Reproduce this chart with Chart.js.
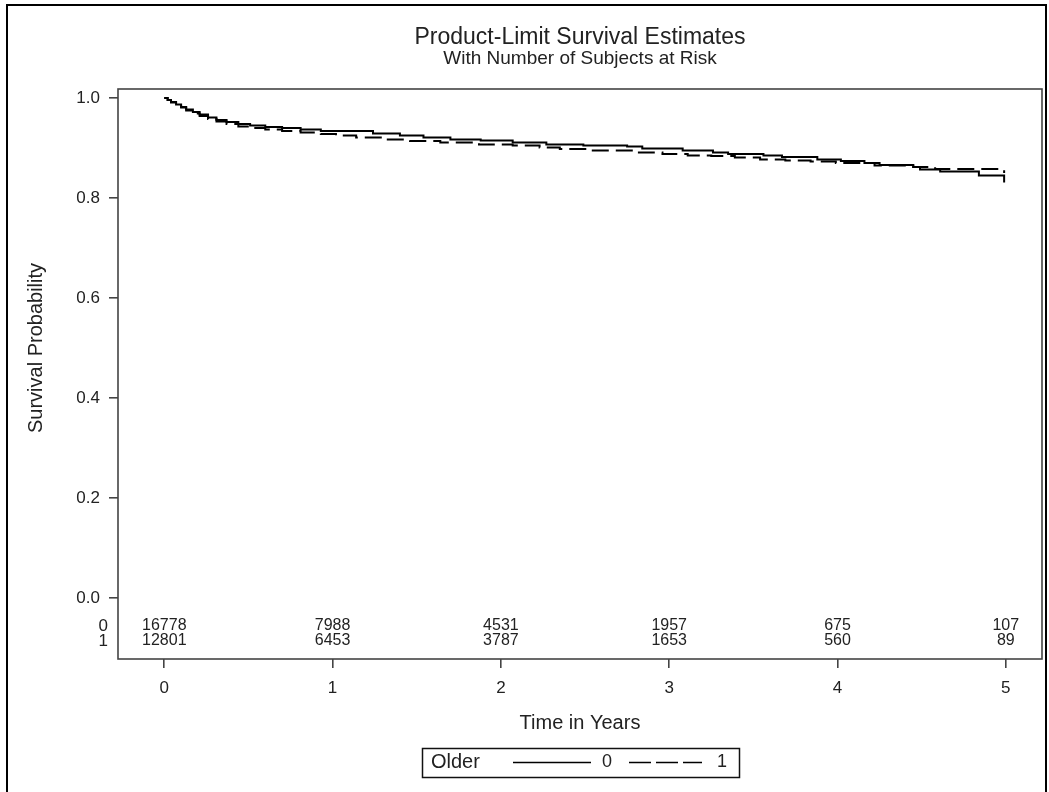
<!DOCTYPE html>
<html>
<head>
<meta charset="utf-8">
<title>Product-Limit Survival Estimates</title>
<script src="https://cdn.jsdelivr.net/npm/chart.js@4"></script>
<style>
  html, body { margin: 0; padding: 0; background: #fff; }
  canvas { display: block; }
</style>
</head>
<body>
<canvas id="kmChart" width="1049" height="792"></canvas>
<script>
// Kaplan-Meier steps: time in years where survival drops, and the value after the drop
const timesGroup0 = [0, 0.02, 0.04, 0.07, 0.10, 0.13, 0.17, 0.21, 0.26, 0.31, 0.37, 0.44, 0.51, 0.60, 0.70, 0.81, 0.93,
    1.24, 1.40, 1.54, 1.70, 1.88, 2.07, 2.27, 2.49, 2.75, 2.84, 3.08, 3.26, 3.35, 3.56, 3.67, 3.88,
    4.02, 4.16, 4.25, 4.45, 4.49, 4.61, 4.84, 4.99];
const survGroup0 = [1.0, 0.996, 0.992, 0.987, 0.982, 0.977, 0.972, 0.967, 0.961, 0.956, 0.952, 0.948, 0.945, 0.942, 0.940, 0.937, 0.934,
    0.929, 0.925, 0.921, 0.917, 0.915, 0.911, 0.907, 0.905, 0.903, 0.899, 0.895, 0.891, 0.888, 0.885, 0.882, 0.877,
    0.874, 0.870, 0.866, 0.862, 0.857, 0.853, 0.845, 0.831];

const timesGroup1 = [0, 0.02, 0.04, 0.07, 0.10, 0.13, 0.17, 0.21, 0.26, 0.31, 0.37, 0.44, 0.51, 0.60, 0.70, 0.81, 0.93,
    1.02, 1.14, 1.30, 1.46, 1.64, 1.87, 2.07, 2.23, 2.35, 2.53, 2.82, 2.96, 3.11, 3.25, 3.39, 3.54, 3.69, 3.84,
    3.99, 4.22, 4.45, 4.58, 4.99];
const survGroup1 = [1.0, 0.996, 0.991, 0.986, 0.981, 0.975, 0.969, 0.964, 0.958, 0.953, 0.948, 0.943, 0.940, 0.937, 0.934, 0.931, 0.928,
    0.925, 0.921, 0.917, 0.914, 0.911, 0.907, 0.905, 0.901, 0.898, 0.895, 0.891, 0.888, 0.885, 0.884, 0.881, 0.877, 0.875, 0.873,
    0.870, 0.865, 0.862, 0.858, 0.850];

// number of subjects at risk
const riskTimes = [0, 1, 2, 3, 4, 5];
const riskGroup0 = [16778, 7988, 4531, 1957, 675, 107];
const riskGroup1 = [12801, 6453, 3787, 1653, 560, 89];
const groupLabels = ['0', '1'];

const yTickValues = [0, 0.2, 0.4, 0.6, 0.8, 1.0];
const yTickLabels = ['0.0', '0.2', '0.4', '0.6', '0.8', '1.0'];

const FONT = '"Liberation Sans", Arial, sans-serif';
const INK = '#222';
const AXIS = '#444';

function toPoints(times, surv) {
    return times.map((t, i) => ({ x: t, y: surv[i] }));
}

const extras = {
    id: 'kmExtras',
    afterDraw(chart) {
        const ctx = chart.ctx;
        const area = chart.chartArea;
        const xs = chart.scales.x;
        const ys = chart.scales.y;
        const midX = (area.left + area.right) / 2;

        ctx.save();

        // outer frame
        ctx.strokeStyle = '#000';
        ctx.lineWidth = 2;
        ctx.beginPath();
        ctx.moveTo(7, 792);
        ctx.lineTo(7, 5);
        ctx.lineTo(1046, 5);
        ctx.lineTo(1046, 792);
        ctx.stroke();

        // plot box
        ctx.strokeStyle = AXIS;
        ctx.lineWidth = 1.6;
        ctx.strokeRect(area.left, area.top, area.right - area.left, area.bottom - area.top);

        ctx.fillStyle = INK;
        ctx.textAlign = 'center';
        ctx.textBaseline = 'middle';

        // titles
        ctx.font = '23px ' + FONT;
        ctx.fillText('Product-Limit Survival Estimates', midX, 38);
        ctx.font = '19px ' + FONT;
        ctx.fillText('With Number of Subjects at Risk', midX, 59);

        // y axis title, centred on the 0..1 range
        ctx.save();
        ctx.translate(36, (ys.getPixelForValue(0) + ys.getPixelForValue(1)) / 2);
        ctx.rotate(-Math.PI / 2);
        ctx.font = '20px ' + FONT;
        ctx.fillText('Survival Probability', 0, 0);
        ctx.restore();

        // at-risk table inside the plot
        const rows = [riskGroup0, riskGroup1];
        const rowY = [626, 641];
        rows.forEach((row, r) => {
            ctx.font = '17px ' + FONT;
            ctx.textAlign = 'right';
            ctx.fillText(groupLabels[r], 108, rowY[r]);
            ctx.font = '16px ' + FONT;
            ctx.textAlign = 'center';
            row.forEach((n, i) => {
                ctx.fillText(String(n), xs.getPixelForValue(riskTimes[i]), rowY[r]);
            });
        });

        // x axis title
        ctx.font = '20px ' + FONT;
        ctx.textAlign = 'center';
        ctx.fillText('Time in Years', midX, 723);

        // legend
        const lx = 422, ly = 748, lw = 317, lh = 29, cy = ly + lh / 2;
        ctx.strokeStyle = '#111';
        ctx.lineWidth = 1.5;
        ctx.strokeRect(lx + 0.5, ly + 0.5, lw, lh);
        ctx.textAlign = 'left';
        ctx.font = '20px ' + FONT;
        ctx.fillText('Older', 431, cy);
        ctx.font = '18px ' + FONT;
        ctx.fillText('0', 602, cy);
        ctx.fillText('1', 717, cy);
        ctx.strokeStyle = '#000';
        ctx.lineWidth = 1.5;
        ctx.beginPath();
        ctx.moveTo(513, cy);
        ctx.lineTo(591, cy);
        ctx.stroke();
        ctx.setLineDash([22, 5]);
        ctx.beginPath();
        ctx.moveTo(629, cy);
        ctx.lineTo(702, cy);
        ctx.stroke();
        ctx.setLineDash([]);

        ctx.restore();
    }
};

const chart = new Chart(document.getElementById('kmChart').getContext('2d'), {
    type: 'line',
    data: {
        datasets: [
            {
                label: '0',
                data: toPoints(timesGroup0, survGroup0),
                borderColor: '#000',
                borderWidth: 2,
                stepped: true,
                pointRadius: 0,
                fill: false
            },
            {
                label: '1',
                data: toPoints(timesGroup1, survGroup1),
                borderColor: '#000',
                borderWidth: 2,
                borderDash: [17, 7],
                stepped: true,
                pointRadius: 0,
                fill: false
            }
        ]
    },
    options: {
        responsive: false,
        animation: false,
        devicePixelRatio: 1,
        layout: { padding: { top: 89, right: 7, left: 0, bottom: 0 } },
        plugins: {
            legend: { display: false },
            title: { display: false },
            tooltip: { enabled: false }
        },
        scales: {
            x: {
                type: 'linear',
                min: -0.275,
                max: 5.215,
                afterBuildTicks: s => { s.ticks = riskTimes.map(v => ({ value: v })); },
                afterFit: s => { s.height = 133; },
                border: { display: false },
                grid: {
                    drawOnChartArea: false,
                    drawTicks: true,
                    tickLength: 9,
                    color: AXIS,
                    lineWidth: 1.6
                },
                ticks: {
                    font: { family: FONT, size: 17 },
                    color: INK,
                    padding: 10,
                    maxRotation: 0,
                    callback: v => String(v)
                }
            },
            y: {
                type: 'linear',
                min: -0.122,
                max: 1.018,
                afterBuildTicks: s => { s.ticks = yTickValues.map(v => ({ value: v })); },
                afterFit: s => { s.width = 118; },
                border: { display: false },
                grid: {
                    drawOnChartArea: false,
                    drawTicks: true,
                    tickLength: 9,
                    color: AXIS,
                    lineWidth: 1.6
                },
                ticks: {
                    font: { family: FONT, size: 17 },
                    color: INK,
                    padding: 9,
                    callback: v => yTickLabels[yTickValues.indexOf(v)]
                }
            }
        }
    },
    plugins: [extras]
});
</script>
</body>
</html>
